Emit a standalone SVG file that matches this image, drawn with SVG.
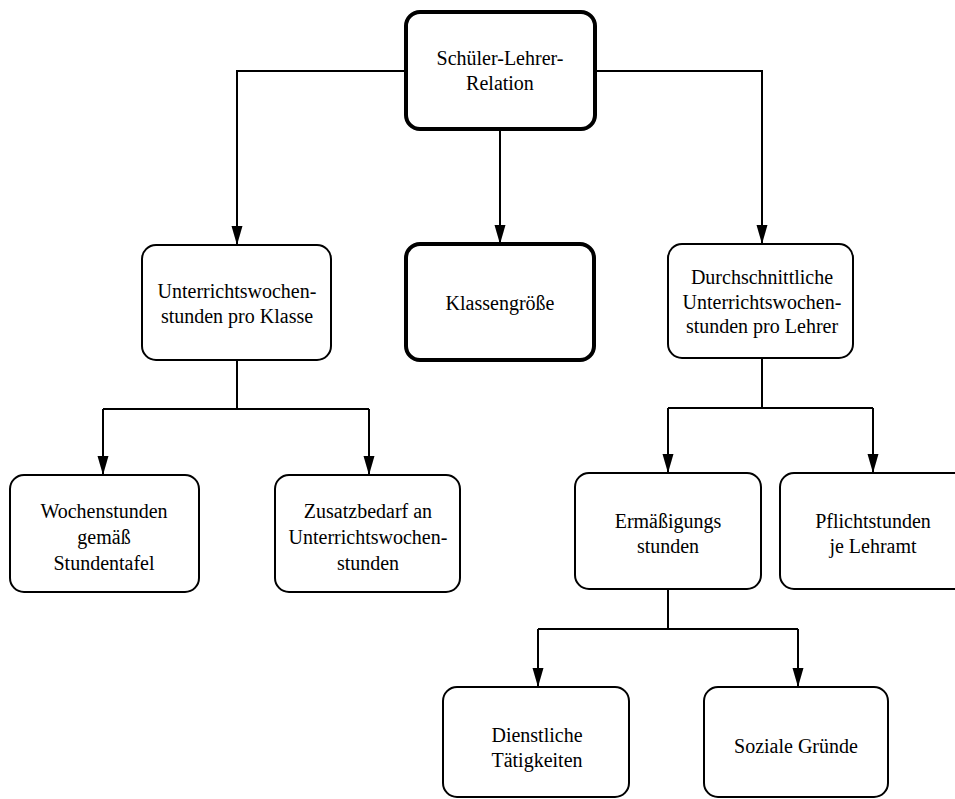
<svg xmlns="http://www.w3.org/2000/svg" width="955" height="799" viewBox="0 0 955 799">
<style>
.box{fill:#fff;stroke:#000;stroke-width:2}
.thick{stroke-width:4}
.t{font-family:"Liberation Serif","Times New Roman",serif;font-size:20px;fill:#000;text-anchor:middle}
.c{fill:none;stroke:#000;stroke-width:2}
</style>
<defs>
<marker id="ah" markerUnits="userSpaceOnUse" markerWidth="20" markerHeight="12" refX="19" refY="6" orient="auto">
<path d="M0,0.5 L19,6 L0,11.5 z" fill="#000"/>
</marker>
</defs>
<rect width="955" height="799" fill="#fff"/>
<g id="connectors">
<path class="c" d="M406,71 H237 V245" marker-end="url(#ah)"/>
<path class="c" d="M595,71 H762 V244" marker-end="url(#ah)"/>
<path class="c" d="M500,129 V244" marker-end="url(#ah)"/>
<path class="c" d="M237,360 V409 M103,409 H369"/>
<path class="c" d="M103,409 V475" marker-end="url(#ah)"/>
<path class="c" d="M369,409 V475" marker-end="url(#ah)"/>
<path class="c" d="M762,358 V408 M668,408 H873"/>
<path class="c" d="M668,408 V473" marker-end="url(#ah)"/>
<path class="c" d="M873,408 V473" marker-end="url(#ah)"/>
<path class="c" d="M668,589 V629 M538,629 H798"/>
<path class="c" d="M538,629 V687" marker-end="url(#ah)"/>
<path class="c" d="M798,629 V687" marker-end="url(#ah)"/>
</g>
<g id="n-schueler-lehrer">
<rect class="box thick" x="406" y="12" width="189" height="117" rx="14"/>
<text class="t" x="500" y="65">Schüler-Lehrer-</text>
<text class="t" x="500" y="90">Relation</text>
</g>
<g id="n-uw-klasse">
<rect class="box" x="142" y="245" width="189" height="115" rx="14"/>
<text class="t" x="237" y="298">Unterrichtswochen-</text>
<text class="t" x="237" y="323">stunden pro Klasse</text>
</g>
<g id="n-klassengroesse">
<rect class="box thick" x="406" y="244" width="188" height="116" rx="14"/>
<text class="t" x="500" y="310">Klassengröße</text>
</g>
<g id="n-uw-lehrer">
<rect class="box" x="668" y="244" width="185" height="114" rx="14"/>
<text class="t" x="762" y="284">Durchschnittliche</text>
<text class="t" x="762" y="309">Unterrichtswochen-</text>
<text class="t" x="762" y="333">stunden pro Lehrer</text>
</g>
<g id="n-wochenstunden">
<rect class="box" x="10" y="475" width="189" height="117" rx="14"/>
<text class="t" x="104" y="518">Wochenstunden</text>
<text class="t" x="104" y="544">gemäß</text>
<text class="t" x="104" y="570">Stundentafel</text>
</g>
<g id="n-zusatzbedarf">
<rect class="box" x="275" y="475" width="185" height="117" rx="14"/>
<text class="t" x="368" y="518">Zusatzbedarf an</text>
<text class="t" x="368" y="544">Unterrichtswochen-</text>
<text class="t" x="368" y="570">stunden</text>
</g>
<g id="n-ermaessigung">
<rect class="box" x="575" y="473" width="186" height="116" rx="14"/>
<text class="t" x="668" y="528">Ermäßigungs</text>
<text class="t" x="668" y="553">stunden</text>
</g>
<g id="n-pflichtstunden">
<rect class="box" x="780" y="473" width="190" height="116" rx="14"/>
<text class="t" x="873" y="528">Pflichtstunden</text>
<text class="t" x="873" y="553">je Lehramt</text>
</g>
<g id="n-dienstliche">
<rect class="box" x="443" y="687" width="186" height="110" rx="14"/>
<text class="t" x="537" y="742">Dienstliche</text>
<text class="t" x="537" y="767">Tätigkeiten</text>
</g>
<g id="n-soziale">
<rect class="box" x="704" y="687" width="184" height="110" rx="14"/>
<text class="t" x="796" y="753">Soziale Gründe</text>
</g>
</svg>
